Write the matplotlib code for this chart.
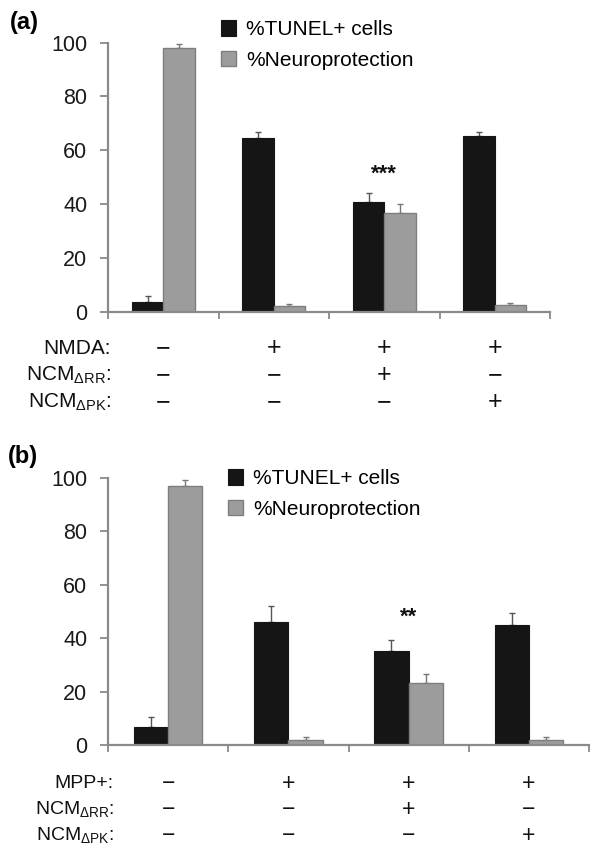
import matplotlib
matplotlib.use("Agg")
import matplotlib.pyplot as plt
import matplotlib.transforms as mtransforms
import numpy as np

plt.rcParams['font.family'] = ['Liberation Sans', 'DejaVu Sans']
plt.rcParams['mathtext.fontset'] = 'custom'
plt.rcParams['mathtext.rm'] = 'Liberation Sans'
plt.rcParams['mathtext.it'] = 'Liberation Sans:italic'
plt.rcParams['mathtext.bf'] = 'Liberation Sans:bold'

# ---------------- data ----------------
series_names = ['%TUNEL+ cells', '%Neuroprotection']

tunel_a = [3.7, 64.4, 40.8, 65.2]
tunel_a_err = [2.2, 2.4, 3.4, 1.6]
neuro_a = [98.1, 2.2, 36.8, 2.4]
neuro_a_err = [1.5, 0.8, 3.1, 0.7]

tunel_b = [6.9, 45.9, 35.3, 45.0]
tunel_b_err = [3.7, 6.2, 4.1, 4.4]
neuro_b = [96.9, 1.9, 23.1, 1.9]
neuro_b_err = [2.5, 1.2, 3.4, 1.1]

sig_a = ['', '', '***', '']
sig_a_y = 51
sig_b = ['', '', '**', '']
sig_b_y = 48

rows_a = ['NMDA:', r'NCM$_{\mathrm{\Delta RR}}$:', r'NCM$_{\mathrm{\Delta PK}}$:']
signs_a = [['−', '+', '+', '+'],
           ['−', '−', '+', '−'],
           ['−', '−', '−', '+']]
rows_b = ['MPP+:', r'NCM$_{\mathrm{\Delta RR}}$:', r'NCM$_{\mathrm{\Delta PK}}$:']
signs_b = [['−', '+', '+', '+'],
           ['−', '−', '+', '−'],
           ['−', '−', '−', '+']]

yticks = [0, 20, 40, 60, 80, 100]

# ---------------- style ----------------
W, H = 604, 855
BLACK = '#151515'
GRAY = '#9c9c9c'
GRAY_EDGE = '#7e7e7e'
AXIS = '#8a8a8a'

fig = plt.figure(figsize=(W / 100, H / 100), dpi=100)


def fx(px):
    return px / W


def fy(py):
    return 1 - py / H


def panel(left, right, y0, y100, tunel, tunel_err, neuro, neuro_err,
          sig, sig_y, label, label_xy, leg_xy, rows, signs, row_ys,
          row_label_x, table_fs, sign_fs):
    ax = fig.add_axes([fx(left), fy(y0), fx(right - left), (y0 - y100) / H])
    n = len(tunel)
    x = np.arange(n)
    w = 0.285
    ax.bar(x - w / 2, tunel, w, color=BLACK, edgecolor=BLACK, linewidth=0.8,
           label=series_names[0], zorder=2)
    ax.bar(x + w / 2, neuro, w, color=GRAY, edgecolor=GRAY_EDGE, linewidth=1.0,
           label=series_names[1], zorder=2)
    ax.errorbar(x - w / 2, tunel, yerr=[np.zeros(n), tunel_err], fmt='none',
                ecolor='#555555', elinewidth=1.0, capsize=2.5, capthick=1.0, zorder=1)
    ax.errorbar(x + w / 2, neuro, yerr=[np.zeros(n), neuro_err], fmt='none',
                ecolor='#777777', elinewidth=1.0, capsize=2.5, capthick=1.0, zorder=1)
    for xi, s in zip(x, sig):
        if s:
            ax.text(xi, sig_y, s, ha='center', va='center', fontsize=16,
                    fontweight='bold', color='#111111')
    ax.set_xlim(-0.5, n - 0.5)
    ax.set_ylim(0, 100)
    ax.set_yticks(yticks)
    ax.set_xticks(np.arange(n + 1) - 0.5)
    ax.set_xticklabels([])
    ax.tick_params(axis='y', direction='out', length=6, width=1.3, color=AXIS,
                   labelsize=15.5, labelcolor='#1a1a1a', pad=9)
    ax.tick_params(axis='x', direction='out', length=5, width=1.3, color=AXIS)
    for sp in ['top', 'right']:
        ax.spines[sp].set_visible(False)
    for sp in ['left', 'bottom']:
        ax.spines[sp].set_color(AXIS)
        ax.spines[sp].set_linewidth(1.6)
    ax.patch.set_alpha(0)

    fig.text(fx(label_xy[0]), fy(label_xy[1]), label, fontsize=17,
             fontweight='bold', ha='left', va='center')

    ax.legend(loc='upper left', bbox_to_anchor=(fx(leg_xy[0]), fy(leg_xy[1])),
              bbox_transform=fig.transFigure,
              frameon=False, fontsize=15, handlelength=0.72, handleheight=0.78,
              handletextpad=0.5, labelspacing=0.55, borderaxespad=0,
              borderpad=0)

    tr = mtransforms.blended_transform_factory(ax.transData, fig.transFigure)
    for r, (rl, ry) in enumerate(zip(rows, row_ys)):
        fig.text(fx(row_label_x), fy(ry), rl, ha='right', va='center',
                 fontsize=table_fs, color='#111111')
        for xi, s in zip(x, signs[r]):
            ax.text(xi, fy(ry), s, transform=tr, ha='center', va='center',
                    fontsize=sign_fs, color='#111111')
    return ax


panel(108, 550, 311.7, 42.7, tunel_a, tunel_a_err, neuro_a, neuro_a_err,
      sig_a, sig_a_y, '(a)', (10, 23), (221, 20), rows_a, signs_a,
      [348, 375, 402], 111, 15, 18)

panel(108, 589, 745, 478, tunel_b, tunel_b_err, neuro_b, neuro_b_err,
      sig_b, sig_b_y, '(b)', (8, 456), (228, 469), rows_b, signs_b,
      [783, 809, 835], 114, 14, 16.5)

fig.savefig('out.png', dpi=100)
